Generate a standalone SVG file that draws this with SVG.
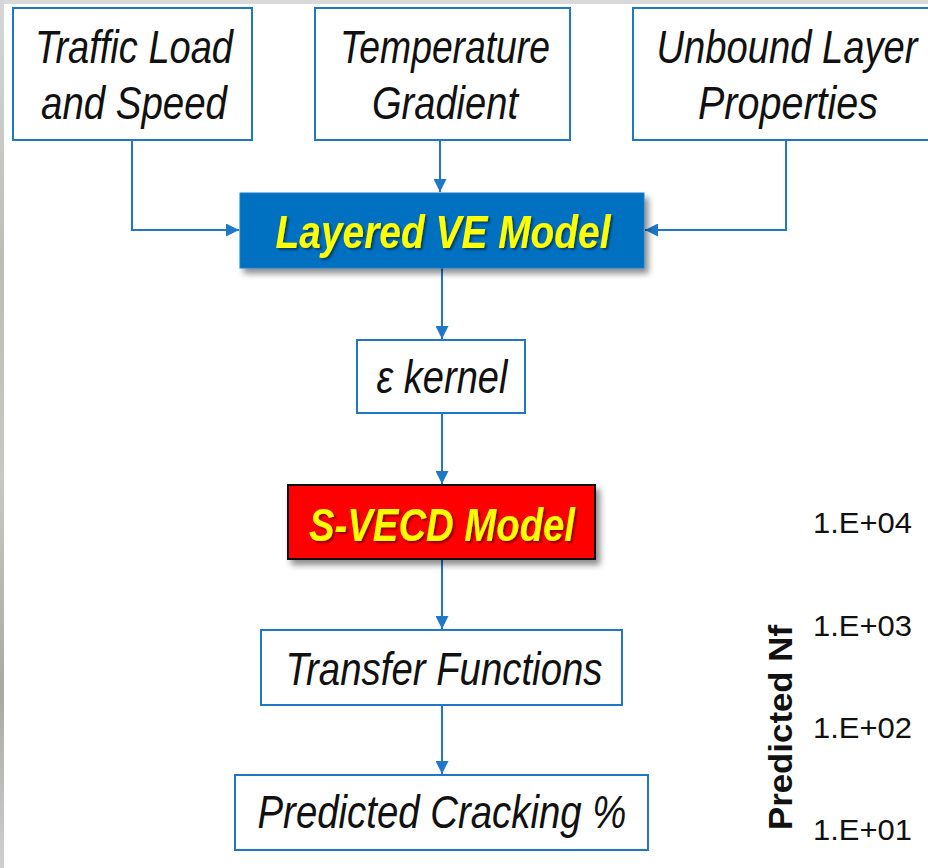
<svg xmlns="http://www.w3.org/2000/svg" width="928" height="868" viewBox="0 0 928 868">
  <style>
    .box { fill: #ffffff; stroke: #1f77c8; stroke-width: 2; }
    .lbl { font-family: "Liberation Sans Narrow", "Arial Narrow", "Liberation Sans", Arial, sans-serif; font-style: italic; font-size: 46px; fill: #111111; text-anchor: middle; }
    .hl { font-weight: bold; fill: #ffff00; }
    .conn { fill: none; stroke: #1f77c8; stroke-width: 2; }
    .tick { font-family: "Liberation Sans", Arial, sans-serif; font-size: 30px; fill: #111111; }
    .axis { font-family: "Liberation Sans", Arial, sans-serif; font-size: 34px; font-weight: bold; fill: #111111; }
  </style>
  <defs>
    <marker id="arrow" viewBox="0 0 10 10" refX="10" refY="5" markerWidth="6.5" markerHeight="6.5" markerUnits="strokeWidth" orient="auto">
      <path d="M0 0 L10 5 L0 10 Z" fill="#1f77c8"/>
    </marker>
    <filter id="boxShadow" x="-10%" y="-20%" width="125%" height="150%">
      <feDropShadow dx="4" dy="5" stdDeviation="3" flood-color="#000000" flood-opacity="0.45"/>
    </filter>
    <filter id="textShadow" x="-5%" y="-20%" width="110%" height="140%">
      <feDropShadow dx="2" dy="2" stdDeviation="1" flood-color="#000000" flood-opacity="0.45"/>
    </filter>
    <linearGradient id="edge" x1="0" y1="0" x2="0" y2="1">
      <stop offset="0" stop-color="#d6d6d6"/>
      <stop offset="0.3" stop-color="#bdbdb8"/>
      <stop offset="0.55" stop-color="#c8c8c4"/>
      <stop offset="0.8" stop-color="#a9a9a4"/>
      <stop offset="1" stop-color="#cfcfcf"/>
    </linearGradient>
  </defs>

  <!-- page background with thin grey frame at top and left -->
  <rect x="0" y="0" width="928" height="868" fill="#ffffff"/>
  <rect x="0" y="0" width="928" height="4" fill="#d9d9d9"/>
  <rect x="0" y="0" width="4" height="868" fill="url(#edge)"/>

  <!-- connectors -->
  <g id="connectors">
    <path class="conn" d="M132 140 V230 H239" marker-end="url(#arrow)"/>
    <path class="conn" d="M440 140 V192" marker-end="url(#arrow)"/>
    <path class="conn" d="M786 140 V230 H645" marker-end="url(#arrow)"/>
    <path class="conn" d="M442 268 V339" marker-end="url(#arrow)"/>
    <path class="conn" d="M442 413 V484" marker-end="url(#arrow)"/>
    <path class="conn" d="M442 559 V629" marker-end="url(#arrow)"/>
    <path class="conn" d="M442 705 V774" marker-end="url(#arrow)"/>
  </g>

  <!-- input nodes -->
  <g id="traffic">
    <rect class="box" x="13" y="8" width="239" height="132"/>
    <text class="lbl" x="134" y="63" textLength="198" lengthAdjust="spacingAndGlyphs">Traffic Load</text>
    <text class="lbl" x="134" y="119" textLength="186" lengthAdjust="spacingAndGlyphs">and Speed</text>
  </g>
  <g id="temperature">
    <rect class="box" x="315" y="8" width="255" height="132"/>
    <text class="lbl" x="445" y="63" textLength="210" lengthAdjust="spacingAndGlyphs">Temperature</text>
    <text class="lbl" x="445" y="119" textLength="146" lengthAdjust="spacingAndGlyphs">Gradient</text>
  </g>
  <g id="unbound">
    <rect class="box" x="633" y="8" width="306" height="132"/>
    <text class="lbl" x="787" y="63" textLength="261" lengthAdjust="spacingAndGlyphs">Unbound Layer</text>
    <text class="lbl" x="788" y="119" textLength="180" lengthAdjust="spacingAndGlyphs">Properties</text>
  </g>

  <!-- processing chain -->
  <g id="layered-ve">
    <rect x="240" y="193" width="404" height="75" fill="#0070c0" stroke="#1a7fcf" stroke-width="1" filter="url(#boxShadow)"/>
    <text class="lbl hl" x="443" y="248" textLength="335" lengthAdjust="spacingAndGlyphs" filter="url(#textShadow)">Layered VE Model</text>
  </g>
  <g id="kernel">
    <rect class="box" x="357" y="340" width="168" height="73"/>
    <text class="lbl" x="442" y="393" font-size="37" textLength="131" lengthAdjust="spacingAndGlyphs">ε kernel</text>
  </g>
  <g id="svecd">
    <rect x="288" y="485" width="307" height="74" fill="#ff0000" stroke="#111111" stroke-width="2" filter="url(#boxShadow)"/>
    <text class="lbl hl" x="442" y="541" textLength="266" lengthAdjust="spacingAndGlyphs" filter="url(#textShadow)">S-VECD Model</text>
  </g>
  <g id="transfer">
    <rect class="box" x="261" y="630" width="361" height="75"/>
    <text class="lbl" x="444" y="685" textLength="317" lengthAdjust="spacingAndGlyphs">Transfer Functions</text>
  </g>
  <g id="cracking">
    <rect class="box" x="235" y="775" width="413" height="75"/>
    <text class="lbl" x="442" y="828" textLength="369" lengthAdjust="spacingAndGlyphs">Predicted Cracking %</text>
  </g>

  <!-- axis fragment at right -->
  <g id="axis">
    <text class="axis" transform="translate(792 830) rotate(-90)" textLength="205" lengthAdjust="spacingAndGlyphs">Predicted Nf</text>
    <text class="tick" x="813" y="533" textLength="99" lengthAdjust="spacingAndGlyphs">1.E+04</text>
    <text class="tick" x="813" y="636" textLength="99" lengthAdjust="spacingAndGlyphs">1.E+03</text>
    <text class="tick" x="813" y="738" textLength="99" lengthAdjust="spacingAndGlyphs">1.E+02</text>
    <text class="tick" x="813" y="840" textLength="99" lengthAdjust="spacingAndGlyphs">1.E+01</text>
  </g>
</svg>
